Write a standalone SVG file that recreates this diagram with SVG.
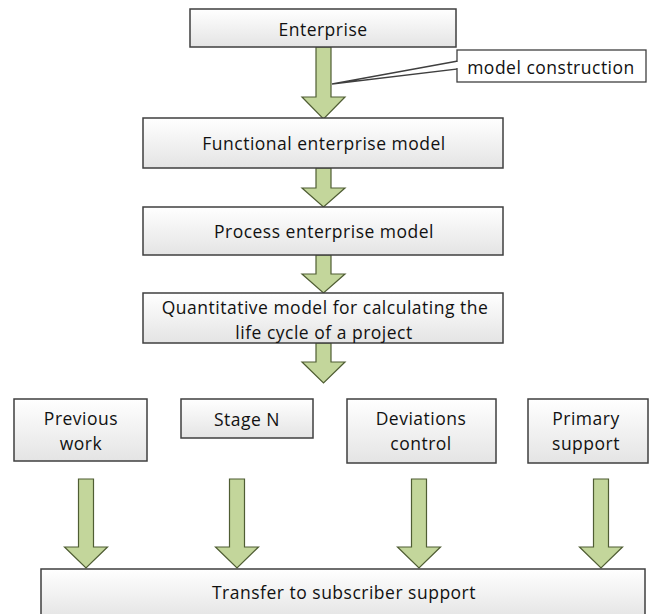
<svg xmlns="http://www.w3.org/2000/svg" width="650" height="614" viewBox="0 0 650 614">
  <defs>
    <linearGradient id="boxFill" x1="0" y1="0" x2="0" y2="1">
      <stop offset="0" stop-color="#ffffff"/>
      <stop offset="1" stop-color="#e4e4e4"/>
    </linearGradient>
    <!-- block arrow pointing down, origin at the tip -->
    <path id="blockArrow" d="M -7.5 -89 L 7.5 -89 L 7.5 -21 L 21.5 -21 L 0 0 L -21.5 -21 L -7.5 -21 Z"/>
  </defs>
  <style>
    .box { fill: url(#boxFill); stroke: #3f3f3f; stroke-width: 1.5; }
    .label { font-family: "Open Sans", "Liberation Sans", sans-serif; font-size: 17.5px; letter-spacing: 0.5px; fill: #111; text-anchor: middle; dominant-baseline: central; }
    .arrow { fill: #c3d69b; stroke: #4f5d33; stroke-width: 1.2; stroke-linejoin: miter; }
    .callout { fill: #ffffff; stroke: #3f3f3f; stroke-width: 1.3; }
  </style>

  <rect width="650" height="614" fill="#ffffff"/>

  <!-- connectors: block arrows between the stages -->
  <g id="connectors">
    <path class="arrow" d="M 316 47 L 331 47 L 331 97 L 345 97 L 323.5 119 L 302 97 L 316 97 Z"/>
    <path class="arrow" d="M 316 168 L 331 168 L 331 188 L 345 188 L 323.5 207 L 302 188 L 316 188 Z"/>
    <path class="arrow" d="M 316 255 L 331 255 L 331 274 L 345 274 L 323.5 293 L 302 274 L 316 274 Z"/>
    <path class="arrow" d="M 316 343 L 331 343 L 331 362 L 345 362 L 323.5 383 L 302 362 L 316 362 Z"/>
    <use href="#blockArrow" class="arrow" x="86" y="568"/>
    <use href="#blockArrow" class="arrow" x="237" y="568"/>
    <use href="#blockArrow" class="arrow" x="419" y="568"/>
    <use href="#blockArrow" class="arrow" x="601" y="568"/>
  </g>

  <g id="enterprise">
    <rect class="box" x="190" y="9" width="266" height="38"/>
    <text class="label" x="323" y="29">Enterprise</text>
  </g>

  <g id="model-construction">
    <polygon class="callout" points="458,61 332,84 458,69"/>
    <rect class="callout" x="457" y="50" width="189" height="32"/>
    <line x1="457" y1="62" x2="457" y2="68" stroke="#ffffff" stroke-width="2"/>
    <text class="label" x="551" y="67">model construction</text>
  </g>

  <g id="functional-model">
    <rect class="box" x="143" y="118" width="360" height="50"/>
    <text class="label" x="324" y="143">Functional enterprise model</text>
  </g>

  <g id="process-model">
    <rect class="box" x="143" y="207" width="360" height="48"/>
    <text class="label" x="324" y="231">Process enterprise model</text>
  </g>

  <g id="quantitative-model">
    <rect class="box" x="143" y="293" width="360" height="50"/>
    <text class="label" x="325" y="307">Quantitative model for calculating the</text>
    <text class="label" x="324" y="332">life cycle of a project</text>
  </g>

  <g id="previous-work">
    <rect class="box" x="14" y="399" width="133" height="62"/>
    <text class="label" x="81" y="418">Previous</text>
    <text class="label" x="81" y="443">work</text>
  </g>

  <g id="stage-n">
    <rect class="box" x="181" y="399" width="132" height="39"/>
    <text class="label" x="247" y="419">Stage N</text>
  </g>

  <g id="deviations-control">
    <rect class="box" x="347" y="399" width="149" height="64"/>
    <text class="label" x="421" y="418">Deviations</text>
    <text class="label" x="421" y="443">control</text>
  </g>

  <g id="primary-support">
    <rect class="box" x="528" y="399" width="120" height="64"/>
    <text class="label" x="586" y="418">Primary</text>
    <text class="label" x="586" y="443">support</text>
  </g>

  <g id="transfer-support">
    <rect class="box" x="41" y="569" width="604" height="50"/>
    <text class="label" x="344" y="592">Transfer to subscriber support</text>
  </g>
</svg>
